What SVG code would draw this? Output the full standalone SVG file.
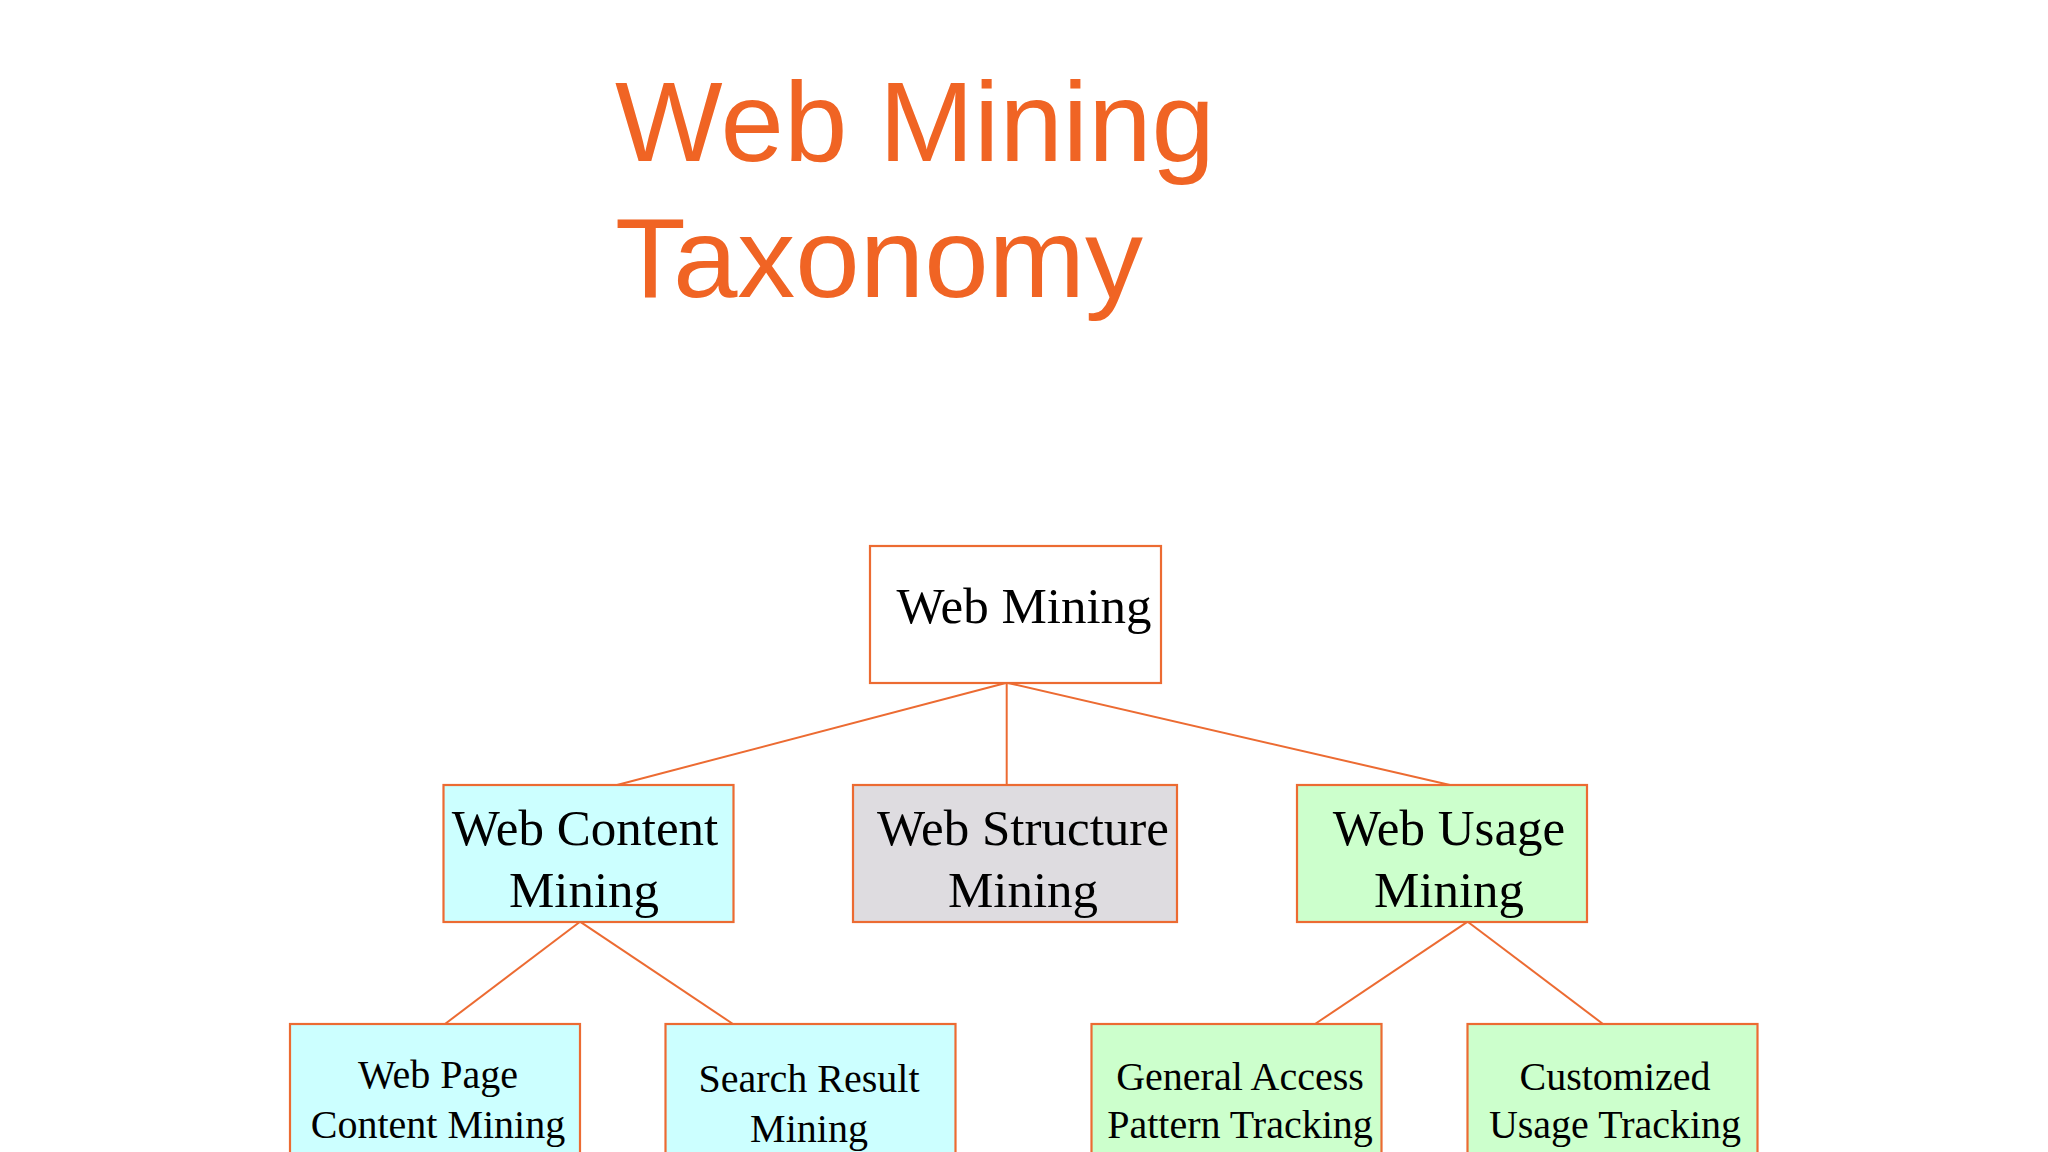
<svg xmlns="http://www.w3.org/2000/svg" width="2048" height="1152" viewBox="0 0 2048 1152">
<style>
.box{stroke:#EC6B32;stroke-width:2.2}
.title{font-family:"Liberation Sans",Arial,sans-serif;font-size:114px;fill:#F06424}
.t{font-family:"Liberation Serif","Times New Roman",serif;fill:#000;text-anchor:middle}
.l2{font-size:51px}
.l3{font-size:40px}
.cn line{stroke:#EC6B32;stroke-width:2}
</style>
<rect width="2048" height="1152" fill="#fff"/>
<g id="title">
<text class="title" x="615" y="161" textLength="600" lengthAdjust="spacingAndGlyphs">Web Mining</text>
<text class="title" x="615" y="297" textLength="528" lengthAdjust="spacingAndGlyphs">Taxonomy</text>
</g>
<g id="connectors" class="cn">
<line x1="1006.7" y1="682.7" x2="617" y2="785"/>
<line x1="1006.7" y1="682.7" x2="1006.7" y2="785"/>
<line x1="1006.7" y1="682.7" x2="1450" y2="785"/>
<line x1="580" y1="921.7" x2="445" y2="1024"/>
<line x1="580" y1="921.7" x2="733" y2="1024"/>
<line x1="1467.7" y1="921.7" x2="1315" y2="1024"/>
<line x1="1467.7" y1="921.7" x2="1603" y2="1024"/>
</g>
<g id="web-mining">
<rect class="box" x="870" y="546" width="291" height="137" fill="#fff"/>
<text class="t l2" x="1024" y="623">Web Mining</text>
</g>
<g id="web-content-mining">
<rect class="box" x="443.5" y="785" width="290" height="137" fill="#CCFFFF"/>
<text class="t l2" x="585" y="845">Web Content</text>
<text class="t l2" x="584" y="907">Mining</text>
</g>
<g id="web-structure-mining">
<rect class="box" x="853" y="785" width="324" height="137" fill="#DEDCE0"/>
<text class="t l2" x="1023" y="845">Web Structure</text>
<text class="t l2" x="1023" y="907">Mining</text>
</g>
<g id="web-usage-mining">
<rect class="box" x="1297" y="785" width="290" height="137" fill="#CCFFCC"/>
<text class="t l2" x="1449" y="845">Web Usage</text>
<text class="t l2" x="1449" y="907">Mining</text>
</g>
<g id="web-page-content-mining">
<rect class="box" x="290" y="1024" width="290" height="160" fill="#CCFFFF"/>
<text class="t l3" x="438" y="1088">Web Page</text>
<text class="t l3" x="438" y="1138">Content Mining</text>
</g>
<g id="search-result-mining">
<rect class="box" x="665.5" y="1024" width="290" height="160" fill="#CCFFFF"/>
<text class="t l3" x="809" y="1092">Search Result</text>
<text class="t l3" x="809" y="1142">Mining</text>
</g>
<g id="general-access-pattern-tracking">
<rect class="box" x="1091.5" y="1024" width="290" height="160" fill="#CCFFCC"/>
<text class="t l3" x="1240" y="1090">General Access</text>
<text class="t l3" x="1240" y="1138">Pattern Tracking</text>
</g>
<g id="customized-usage-tracking">
<rect class="box" x="1467.5" y="1024" width="290" height="160" fill="#CCFFCC"/>
<text class="t l3" x="1615" y="1090">Customized</text>
<text class="t l3" x="1615" y="1138">Usage Tracking</text>
</g>
</svg>
